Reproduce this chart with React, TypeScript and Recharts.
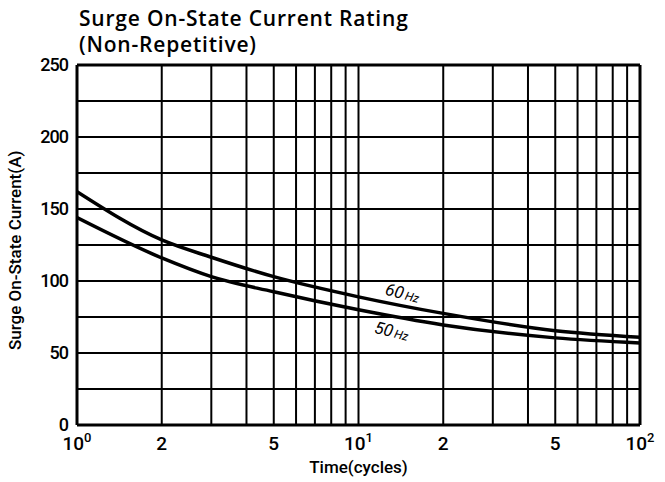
import { CartesianGrid, Line, LineChart, ReferenceDot, ReferenceLine, XAxis, YAxis } from 'recharts';

// time in cycles (log axis)
const cycles = [1, 2, 3, 5, 10, 20, 50, 100];
const current60Hz = [162, 128.5, 116.5, 103, 89, 77.5, 65.5, 61];
const current50Hz = [144, 116, 103, 92.5, 80, 69.5, 60.5, 57];

const xGridTicks = [1, 2, 3, 4, 5, 6, 7, 8, 9, 10, 20, 30, 40, 50, 60, 70, 80, 90, 100];
const xLabelTicks = [1, 2, 5, 10, 20, 50, 100];
const yGridTicks = [0, 25, 50, 75, 100, 125, 150, 175, 200, 225, 250];

const data = cycles.map((t, i) => ({ t, hz60: current60Hz[i], hz50: current50Hz[i] }));

const FONT = 'Roboto, "Liberation Sans", Arial, sans-serif';
const TITLE_FONT = '"Open Sans", Roboto, Arial, sans-serif';

const XTick = (props: any) => {
  const { x, y, payload } = props;
  const v = payload.value;
  if (!xLabelTicks.includes(v)) return null;
  const exp = v === 1 ? '0' : v === 10 ? '1' : v === 100 ? '2' : null;
  return (
    <text x={x} y={y + 17} textAnchor="middle" fontSize={19} fontWeight={500} fontFamily={FONT} fill="#000">
      {exp ? (
        <>
          <tspan>10</tspan>
          <tspan dy={-8} fontSize={13}>{exp}</tspan>
        </>
      ) : (
        String(v)[0]
      )}
    </text>
  );
};

const YTick = (props: any) => {
  const { x, y, payload } = props;
  if (payload.value % 50 !== 0) return null;
  return (
    <text
      x={x - 1}
      y={y + 6}
      textAnchor="end"
      fontSize={18}
      fontWeight={500}
      fontFamily={FONT}
      fill="#000"
      letterSpacing={-1}
    >
      {payload.value}
    </text>
  );
};

const hzLabel = (main: string) => (props: any) => {
  const { viewBox } = props;
  const cx = viewBox.x + (viewBox.width || 0) / 2;
  const cy = viewBox.y + (viewBox.height || 0) / 2;
  return (
    <text
      x={cx}
      y={cy + 5}
      textAnchor="middle"
      fontFamily={FONT}
      fontStyle="italic"
      fill="#000"
      transform={`rotate(14 ${cx} ${cy})`}
    >
      <tspan fontSize={17}>{main}</tspan>
      <tspan fontSize={12} dx={2}>Hz</tspan>
    </text>
  );
};

const titleStyle = {
  position: 'absolute' as const,
  left: 79,
  fontFamily: TITLE_FONT,
  fontWeight: 600,
  fontSize: 21,
  letterSpacing: 0.8,
  lineHeight: '22px',
  color: '#000',
  whiteSpace: 'nowrap' as const,
};

export default function App() {
  return (
    <div style={{ position: 'absolute', left: 0, top: 0, width: 665, height: 482, background: '#fff' }}>
      <div style={{ ...titleStyle, top: 7 }}>Surge On-State Current Rating</div>
      <div style={{ ...titleStyle, top: 33 }}>(Non-Repetitive)</div>
      <LineChart width={665} height={482} data={data} margin={{ top: 65, right: 25, bottom: 27, left: 37 }}>
        <CartesianGrid stroke="#000" strokeWidth={2} horizontalValues={yGridTicks} verticalValues={xGridTicks} />
        <XAxis
          dataKey="t"
          type="number"
          scale="log"
          domain={[1, 100]}
          ticks={xGridTicks}
          interval={0}
          tick={<XTick />}
          tickLine={false}
          axisLine={{ stroke: '#000', strokeWidth: 3 }}
          height={30}
          allowDataOverflow
          label={{
            value: 'Time(cycles)',
            position: 'insideBottom',
            offset: -18,
            fontSize: 17,
            fontWeight: 500,
            fontFamily: FONT,
            fill: '#000',
          }}
        />
        <YAxis
          type="number"
          domain={[0, 250]}
          ticks={yGridTicks}
          interval={0}
          tick={<YTick />}
          tickLine={false}
          axisLine={{ stroke: '#000', strokeWidth: 3 }}
          width={40}
          label={{
            value: 'Surge On-State Current(A)',
            angle: -90,
            position: 'insideLeft',
            offset: -22,
            dy: 105,
            fontSize: 17,
            fontWeight: 500,
            fontFamily: FONT,
            fill: '#000',
          }}
        />
        <ReferenceLine y={250} stroke="#000" strokeWidth={3} />
        <ReferenceLine x={100} stroke="#000" strokeWidth={3} />
        <Line type="monotone" dataKey="hz60" stroke="#000" strokeWidth={3.5} dot={false} isAnimationActive={false} />
        <Line type="monotone" dataKey="hz50" stroke="#000" strokeWidth={3.5} dot={false} isAnimationActive={false} />
        <ReferenceDot x={14.3} y={91} r={0} stroke="none" label={hzLabel('60')} />
        <ReferenceDot x={13.1} y={64.6} r={0} stroke="none" label={hzLabel('50')} />
      </LineChart>
    </div>
  );
}
